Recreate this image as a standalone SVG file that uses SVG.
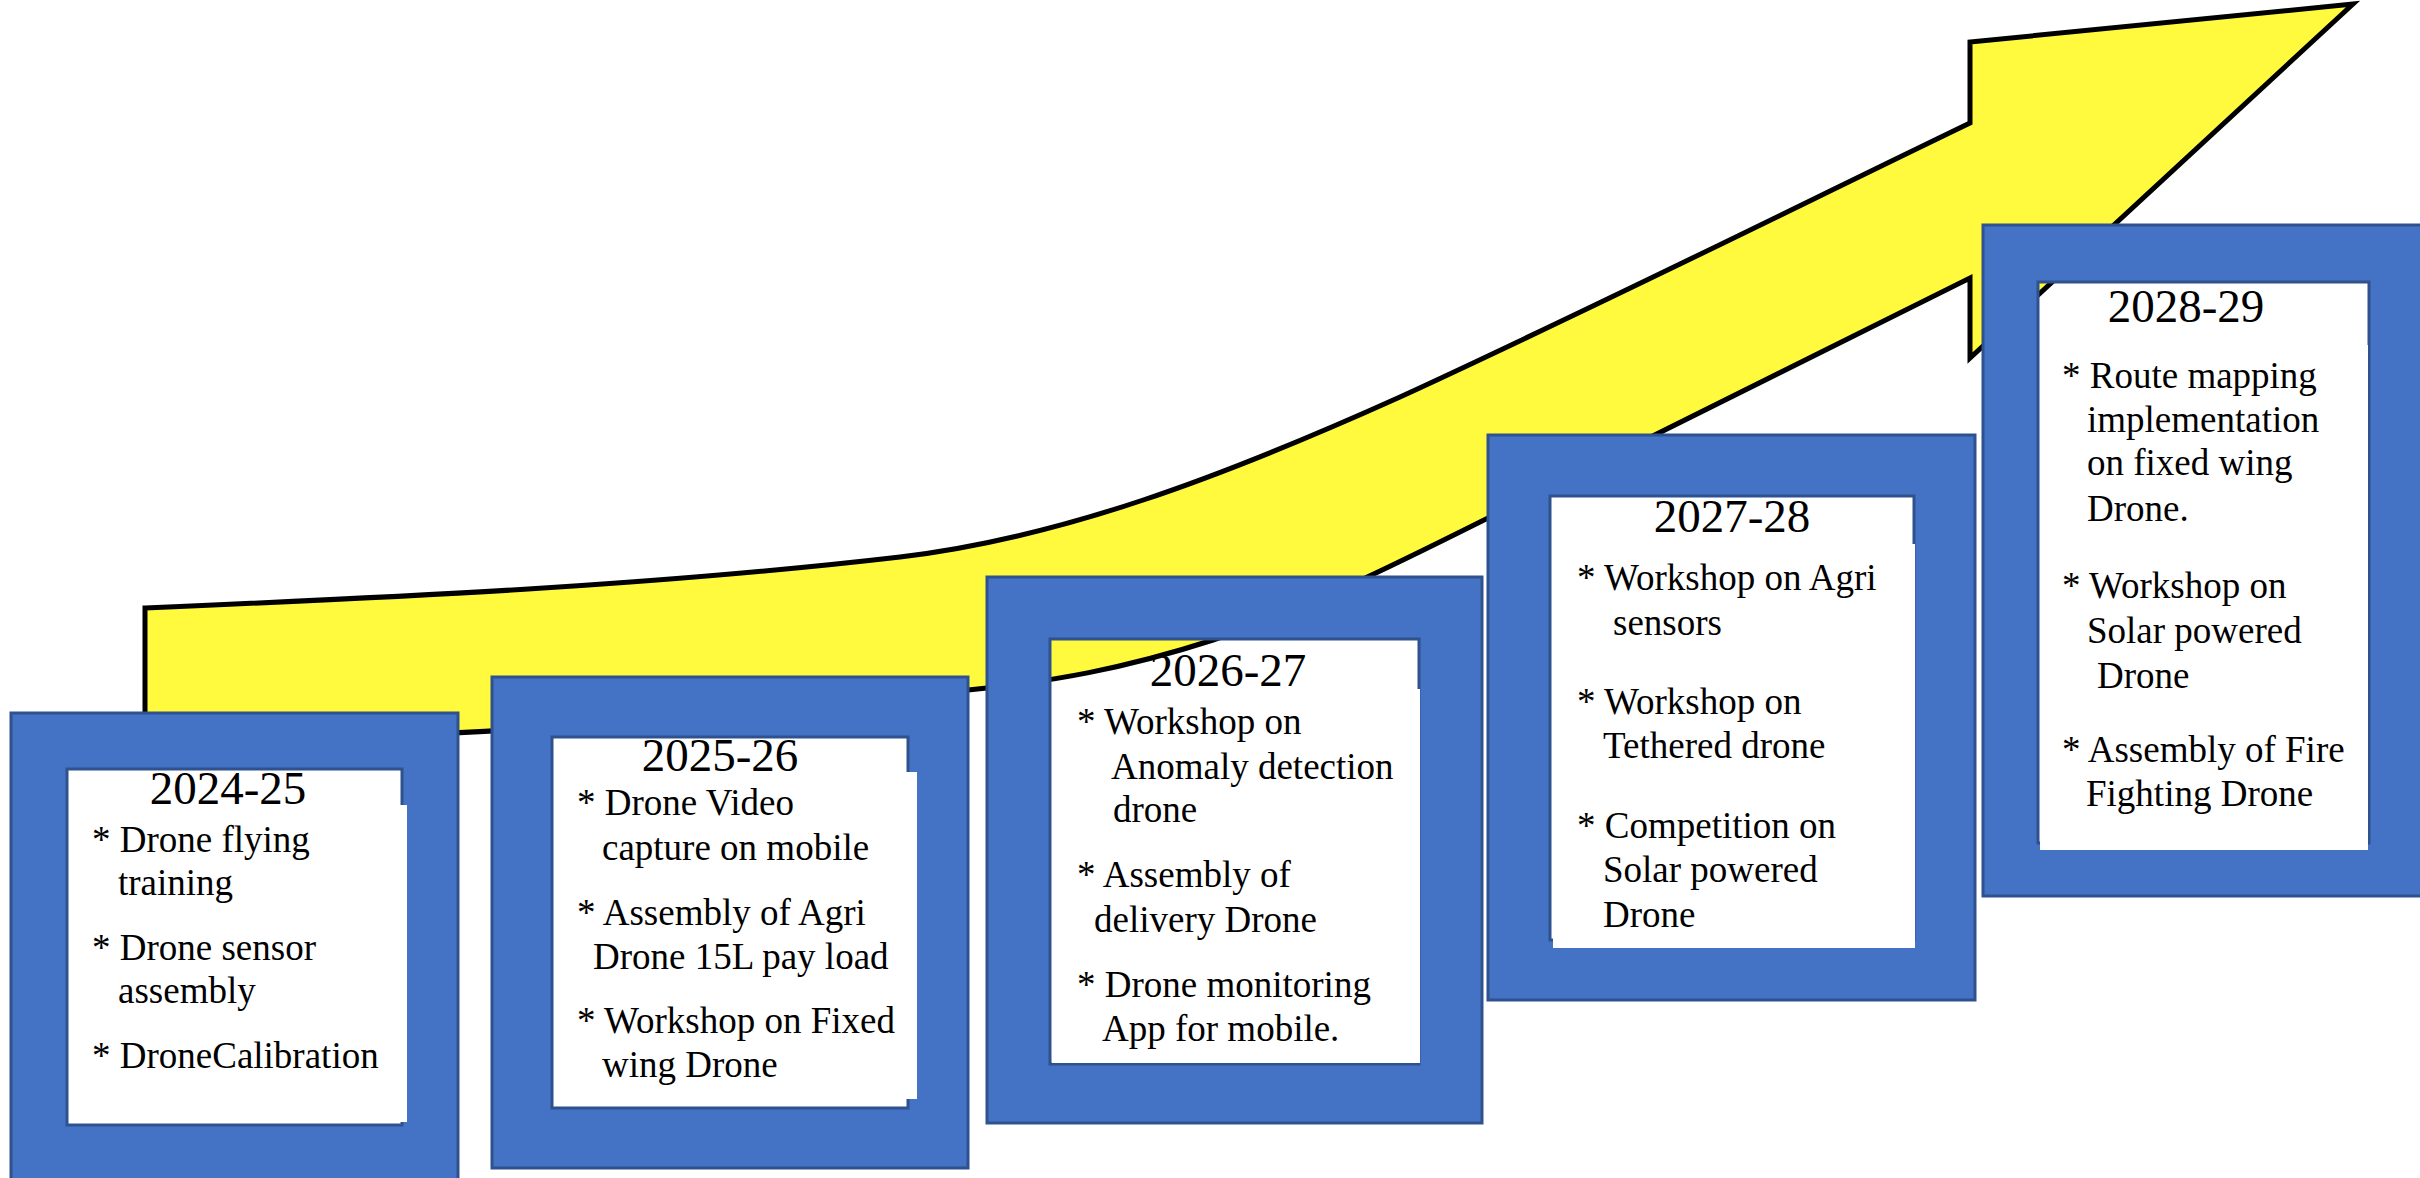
<svg xmlns="http://www.w3.org/2000/svg" width="2420" height="1178" viewBox="0 0 2420 1178">
<style>
.frame{fill:#4472C4;fill-rule:evenodd;stroke:#2F528F;stroke-width:3}
.pad{fill:#FFFFFF;stroke:none}
.title{font-family:"Liberation Serif","Times New Roman",serif;font-size:47px;fill:#000;text-anchor:middle}
.item{font-family:"Liberation Serif","Times New Roman",serif;font-size:37px;fill:#000}
.arrow{fill:#FFFA3E;stroke:#000;stroke-width:5;stroke-linejoin:miter}
</style>
<rect width="2420" height="1178" fill="#FFFFFF"/>
<g id="connectors">
<path id="growth-arrow" class="arrow" d="M145,608 C400,597 650,586 900,557 C1060,538 1220,478 1400,397 C1600,305 1800,205 1970,123 L1970,42 L2353,4 L1970,358 L1970,278 L1480,522 C1400,562 1300,612 1213,640 C1120,670 1050,681 987,688 C800,708 600,727 412,735 L145,745 Z"/>
</g>
<g id="node-2024-25">
<path class="frame" d="M11,713 H458 V1185 H11 Z M67,769 H402 V1125 H67 Z"/>
<rect class="pad" x="69" y="805" width="338" height="317"/>
<text class="title" x="228" y="804">2024-25</text>
<text class="item" x="92" y="852">* Drone flying</text>
<text class="item" x="118" y="895">training</text>
<text class="item" x="92" y="960">* Drone sensor</text>
<text class="item" x="118" y="1003">assembly</text>
<text class="item" x="92" y="1068">* DroneCalibration</text>
</g>
<g id="node-2025-26">
<path class="frame" d="M492,677 H968 V1168 H492 Z M552,737 H908 V1108 H552 Z"/>
<rect class="pad" x="554" y="772" width="363" height="327"/>
<text class="title" x="720" y="771">2025-26</text>
<text class="item" x="577" y="815">* Drone Video</text>
<text class="item" x="602" y="860">capture on mobile</text>
<text class="item" x="577" y="925">* Assembly of Agri</text>
<text class="item" x="593" y="969">Drone 15L pay load</text>
<text class="item" x="577" y="1033">* Workshop on Fixed</text>
<text class="item" x="602" y="1077">wing Drone</text>
</g>
<g id="node-2026-27">
<path class="frame" d="M987,577 H1482 V1123 H987 Z M1050,639 H1419 V1064 H1050 Z"/>
<rect class="pad" x="1052" y="689" width="368" height="374"/>
<text class="title" x="1228" y="686">2026-27</text>
<text class="item" x="1077" y="734">* Workshop on</text>
<text class="item" x="1111" y="779">Anomaly detection</text>
<text class="item" x="1113" y="822">drone</text>
<text class="item" x="1077" y="887">* Assembly of</text>
<text class="item" x="1094" y="932">delivery Drone</text>
<text class="item" x="1077" y="997">* Drone monitoring</text>
<text class="item" x="1102" y="1041">App for mobile.</text>
</g>
<g id="node-2027-28">
<path class="frame" d="M1488,435 H1975 V1000 H1488 Z M1550,496 H1914 V940 H1550 Z"/>
<rect class="pad" x="1553" y="544" width="362" height="404"/>
<text class="title" x="1732" y="532">2027-28</text>
<text class="item" x="1577" y="590">* Workshop on Agri</text>
<text class="item" x="1613" y="635">sensors</text>
<text class="item" x="1577" y="714">* Workshop on</text>
<text class="item" x="1603" y="758">Tethered drone</text>
<text class="item" x="1577" y="838">* Competition on</text>
<text class="item" x="1603" y="882">Solar powered</text>
<text class="item" x="1603" y="927">Drone</text>
</g>
<g id="node-2028-29">
<path class="frame" d="M1983,225 H2424 V896 H1983 Z M2038,282 H2369 V843 H2038 Z"/>
<rect class="pad" x="2040" y="345" width="328" height="505"/>
<text class="title" x="2186" y="322">2028-29</text>
<text class="item" x="2062" y="388">* Route mapping</text>
<text class="item" x="2087" y="432">implementation</text>
<text class="item" x="2087" y="475">on fixed wing</text>
<text class="item" x="2087" y="521">Drone.</text>
<text class="item" x="2062" y="598">* Workshop on</text>
<text class="item" x="2087" y="643">Solar powered</text>
<text class="item" x="2097" y="688">Drone</text>
<text class="item" x="2062" y="762">* Assembly of Fire</text>
<text class="item" x="2086" y="806">Fighting Drone</text>
</g>
</svg>
